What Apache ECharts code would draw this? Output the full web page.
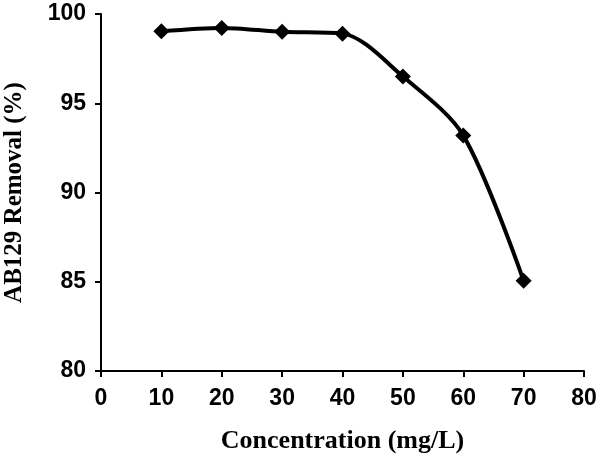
<!DOCTYPE html>
<html>
<head>
<meta charset="utf-8">
<script src="https://cdn.jsdelivr.net/npm/echarts@6/dist/echarts.min.js"></script>
<style>
  html, body { margin: 0; padding: 0; background: #fff; }
  #chart { width: 600px; height: 455px; }
</style>
</head>
<body>
<div id="chart"></div>
<script>
// concentration (mg/L) and removal (%)
const concentrations = [10, 20, 30, 40, 50, 60, 70]
const removal = [99.03, 99.22, 99.0, 98.9, 96.5, 93.2, 85.05]

const tickFont = { fontFamily: 'Liberation Sans', fontWeight: 'bold', fontSize: 23, color: '#000' }

const myChart = echarts.init(document.getElementById('chart'))

const option = {
  animation: false,
  grid: { left: 101, right: 16, top: 14, bottom: 84, outerBoundsMode: 'none' },
  xAxis: {
    type: 'value',
    min: 0,
    max: 80,
    interval: 10,
    name: 'Concentration (mg/L)',
    nameLocation: 'middle',
    nameGap: 57,
    nameTextStyle: { fontFamily: 'Liberation Serif', fontWeight: 'bold', fontSize: 26, color: '#000' },
    axisLine: { show: true, lineStyle: { color: '#000', width: 2 } },
    axisTick: { show: true, length: 6, lineStyle: { color: '#000', width: 2 } },
    axisLabel: Object.assign({ margin: 16 }, tickFont),
    splitLine: { show: false }
  },
  yAxis: {
    type: 'value',
    min: 80,
    max: 100,
    interval: 5,
    name: 'AB129 Removal (%)',
    nameLocation: 'middle',
    nameGap: 74,
    nameTextStyle: { fontFamily: 'Liberation Serif', fontWeight: 'bold', fontSize: 25, color: '#000' },
    axisLine: { show: true, lineStyle: { color: '#000', width: 2 } },
    axisTick: { show: true, length: 6, lineStyle: { color: '#000', width: 2 } },
    axisLabel: Object.assign({ margin: 15 }, tickFont),
    splitLine: { show: false }
  },
  series: [
    {
      type: 'line',
      data: concentrations.map((c, i) => [c, removal[i]]),
      smooth: 0.3,
      symbol: 'diamond',
      symbolSize: 16,
      itemStyle: { color: '#000' },
      lineStyle: { color: '#000', width: 4 }
    }
  ]
}

myChart.setOption(option)
</script>
</body>
</html>
